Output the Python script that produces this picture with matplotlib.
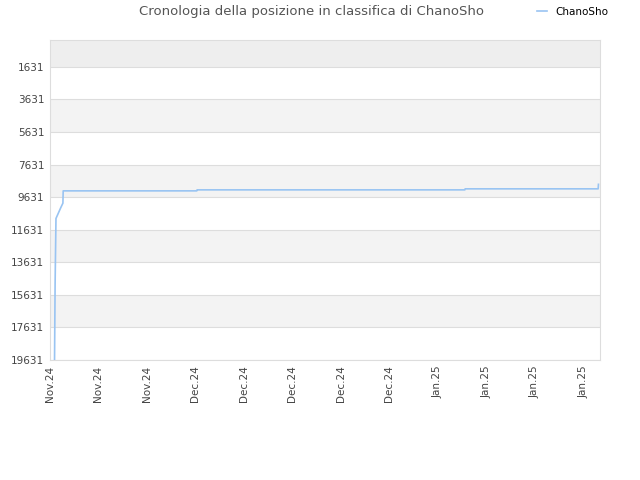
import numpy as np
import pandas as pd
import matplotlib
matplotlib.use('Agg')
import matplotlib.pyplot as plt

# rank history (lower number = better)
dates = pd.to_datetime([
    '2024-11-10 16:00', '2024-11-10 18:00', '2024-11-10 21:00',
    '2024-11-11 14:00', '2024-11-11 21:00', '2024-11-11 22:00',
    '2024-12-01 05:00', '2024-12-01 06:00', '2025-01-08 22:00',
    '2025-01-08 23:00', '2025-01-28 04:00', '2025-01-28 05:00',
])
ranks = [19631, 14946, 10939, 10261, 10000, 9244,
         9244, 9183, 9183, 9120, 9120, 8843]

yticks = np.arange(1631, 19632, 2000)
xticks = pd.date_range('2024-11-10', periods=12, freq='7D')
xlabels = ['Nov.24'] * 3 + ['Dec.24'] * 5 + ['Jan.25'] * 4

fig = plt.figure(figsize=(6.4, 4.8), dpi=100)
ax = fig.add_axes([0.078, 0.25, 0.86, 0.667])

ymin, ymax = 19631, -30
ax.set_ylim(ymin, ymax)
ax.set_xlim(pd.Timestamp('2024-11-10'), pd.Timestamp('2025-01-28 11:30'))

# alternating bands
ax.axhspan(ymax, yticks[0], color='#eeeeee', zorder=0, lw=0)
for i in range(len(yticks) - 1):
    if i % 2 == 1:
        ax.axhspan(yticks[i], yticks[i + 1], color='#f3f3f3', zorder=0, lw=0)
for y in yticks:
    ax.axhline(y, color='#dddddd', lw=0.8, zorder=1)

ax.plot(dates, ranks, color='#99c4f2', lw=1.2, label='ChanoSho', zorder=3)

ax.set_yticks(yticks)
ax.set_yticklabels([str(v) for v in yticks])
ax.set_xticks(xticks)
ax.set_xticklabels(xlabels, rotation=90)
ax.tick_params(length=0, labelsize=7.5, colors='#444444', pad=4)
for s in ax.spines.values():
    s.set_color('#dddddd')

fig.text(0.487, 0.975, 'Cronologia della posizione in classifica di ChanoSho',
         ha='center', va='center', fontsize=9.5, color='#555555')
fig.legend(loc='center left', bbox_to_anchor=(0.825, 0.975), frameon=False,
           fontsize=7.5, handlelength=0.9, handletextpad=0.8)

fig.savefig('out.png', dpi=100)
